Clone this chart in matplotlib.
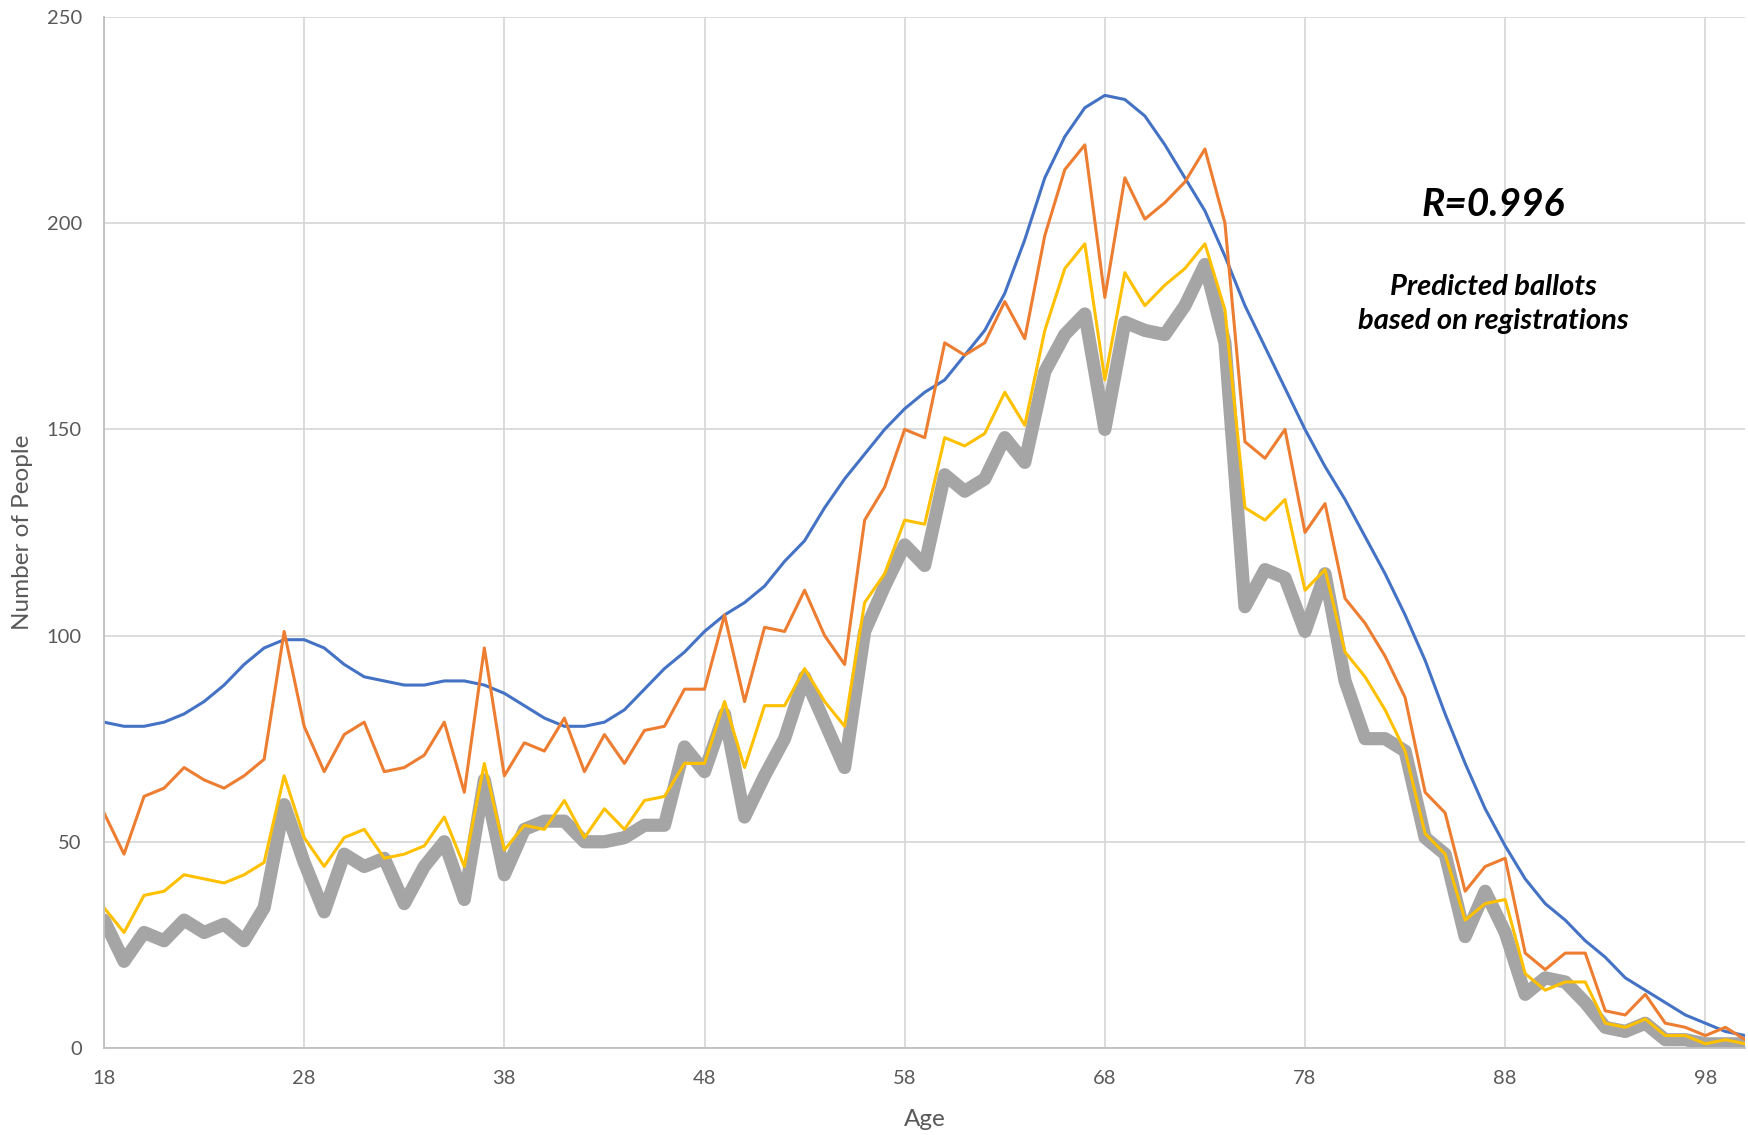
import matplotlib
matplotlib.use("Agg")
import matplotlib.pyplot as plt
import numpy as np

# ages 18..100
ages = np.arange(18, 101)

registered = [79, 78, 78, 79, 81, 84, 88, 93, 97, 99, 99, 97, 93, 90, 89, 88, 88, 89, 89, 88,
              86, 83, 80, 78, 78, 79, 82, 87, 92, 96, 101, 105, 108, 112, 118, 123, 131, 138, 144, 150,
              155, 159, 162, 168, 174, 183, 196, 211, 221, 228, 231, 230, 226, 219, 211, 203, 192, 180, 170, 160,
              150, 141, 133, 124, 115, 105, 94, 81, 69, 58, 49, 41, 35, 31, 26, 22, 17, 14, 11, 8,
              6, 4, 3]
orange = [57, 47, 61, 63, 68, 65, 63, 66, 70, 101, 78, 67, 76, 79, 67, 68, 71, 79, 62, 97,
          66, 74, 72, 80, 67, 76, 69, 77, 78, 87, 87, 105, 84, 102, 101, 111, 100, 93, 128, 136,
          150, 148, 171, 168, 171, 181, 172, 197, 213, 219, 182, 211, 201, 205, 210, 218, 200, 147, 143, 150,
          125, 132, 109, 103, 95, 85, 62, 57, 38, 44, 46, 23, 19, 23, 23, 9, 8, 13, 6, 5,
          3, 5, 2]
predicted = [34, 28, 37, 38, 42, 41, 40, 42, 45, 66, 51, 44, 51, 53, 46, 47, 49, 56, 44, 69,
             48, 54, 53, 60, 51, 58, 53, 60, 61, 69, 69, 84, 68, 83, 83, 92, 84, 78, 108, 115,
             128, 127, 148, 146, 149, 159, 151, 174, 189, 195, 162, 188, 180, 185, 189, 195, 179, 131, 128, 133,
             111, 116, 96, 90, 82, 72, 52, 47, 31, 35, 36, 18, 14, 16, 16, 6, 5, 7, 3, 3,
             1, 2, 1]
ballots = [31, 21, 28, 26, 31, 28, 30, 26, 34, 59, 45, 33, 47, 44, 46, 35, 44, 50, 36, 65,
           42, 53, 55, 55, 50, 50, 51, 54, 54, 73, 67, 81, 56, 66, 75, 90, 79, 68, 101, 112,
           122, 117, 139, 135, 138, 148, 142, 164, 173, 178, 150, 176, 174, 173, 180, 190, 171, 107, 116, 114,
           101, 115, 89, 75, 75, 72, 51, 47, 27, 38, 28, 13, 17, 16, 11, 5, 4, 6, 2, 2,
           1, 1, 1]

plt.rcParams['font.family'] = ['Lato', 'DejaVu Sans']

fig = plt.figure(figsize=(17.48, 11.35), dpi=100)
ax = fig.add_axes([0.0595, 0.0767, 0.939, 0.9083])

ax.plot(ages, ballots, color='#A5A5A5', lw=9.5, solid_joinstyle='round', solid_capstyle='round')
ax.plot(ages, registered, color='#4472C4', lw=2.2)
ax.plot(ages, orange, color='#ED7D31', lw=2.2)
ax.plot(ages, predicted, color='#FFC000', lw=2.2)

ax.set_xlim(18, 100)
ax.set_ylim(0, 250)
ax.set_xticks(np.arange(18, 100, 10))
ax.set_yticks(np.arange(0, 251, 50))
ax.grid(True, color='#D9D9D9', lw=1.3)
ax.set_axisbelow(True)
ax.tick_params(length=0, labelsize=14.5, labelcolor='#595959')
ax.tick_params(axis='x', pad=16)
ax.tick_params(axis='y', pad=16)
for s in ['top', 'right']:
    ax.spines[s].set_visible(False)
for s in ['left', 'bottom']:
    ax.spines[s].set_color('#BFBFBF')
    ax.spines[s].set_linewidth(1.3)

ax.set_xlabel('Age', fontsize=17.5, color='#595959', va='center')
ax.set_ylabel('Number of People', fontsize=17.5, color='#595959', va='center')
ax.xaxis.set_label_coords(0.5, -0.0698)
ax.yaxis.set_label_coords(-0.0494, 0.5)

ax.text(87.4, 204.5, 'R=0.996', fontsize=28, fontweight='bold', fontstyle='italic',
        ha='center', va='center')
ax.text(87.4, 180.5, 'Predicted ballots\nbased on registrations', fontsize=21,
        fontweight='bold', fontstyle='italic', ha='center', va='center', linespacing=1.38)

fig.savefig('out.png', dpi=100)
